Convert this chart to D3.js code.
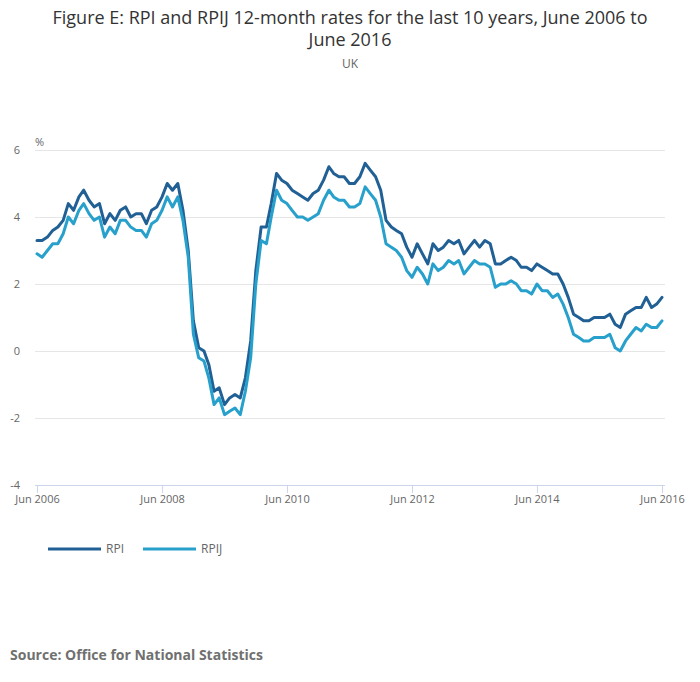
<!DOCTYPE html>
<html lang="en">
<head>
  <meta charset="UTF-8">
  <title>RPI and RPIJ</title>
  <script src="https://d3js.org/d3.v7.min.js"></script>
  <style>
    body { margin: 0; padding: 0; background: #fff; }
    svg { display: block; font-family: "Open Sans", sans-serif; }
  </style>
</head>
<body>
  <svg width="700" height="682"></svg>
  <script>
    // monthly 12-month rates, Jun 2006 .. Jun 2016
    const startMonth = new Date(2006, 5, 1);
    const rpi = [
      3.3, 3.3, 3.4, 3.6, 3.7, 3.9, 4.4,
      4.2, 4.6, 4.8, 4.5, 4.3, 4.4, 3.8, 4.1, 3.9, 4.2, 4.3, 4.0,
      4.1, 4.1, 3.8, 4.2, 4.3, 4.6, 5.0, 4.8, 5.0, 4.2, 3.0, 0.9,
      0.1, 0.0, -0.4, -1.2, -1.1, -1.6, -1.4, -1.3, -1.4, -0.8, 0.3, 2.4,
      3.7, 3.7, 4.4, 5.3, 5.1, 5.0, 4.8, 4.7, 4.6, 4.5, 4.7, 4.8,
      5.1, 5.5, 5.3, 5.2, 5.2, 5.0, 5.0, 5.2, 5.6, 5.4, 5.2, 4.8,
      3.9, 3.7, 3.6, 3.5, 3.1, 2.8, 3.2, 2.9, 2.6, 3.2, 3.0, 3.1,
      3.3, 3.2, 3.3, 2.9, 3.1, 3.3, 3.1, 3.3, 3.2, 2.6, 2.6, 2.7,
      2.8, 2.7, 2.5, 2.5, 2.4, 2.6, 2.5, 2.4, 2.3, 2.3, 2.0, 1.6,
      1.1, 1.0, 0.9, 0.9, 1.0, 1.0, 1.0, 1.1, 0.8, 0.7, 1.1, 1.2,
      1.3, 1.3, 1.6, 1.3, 1.4, 1.6
    ];
    const rpij = [
      2.9, 2.8, 3.0, 3.2, 3.2, 3.5, 4.0,
      3.8, 4.2, 4.4, 4.1, 3.9, 4.0, 3.4, 3.7, 3.5, 3.9, 3.9, 3.7,
      3.6, 3.6, 3.4, 3.8, 3.9, 4.2, 4.6, 4.3, 4.6, 3.9, 2.8, 0.5,
      -0.2, -0.3, -0.8, -1.6, -1.4, -1.9, -1.8, -1.7, -1.9, -1.2, -0.2, 2.0,
      3.3, 3.2, 4.0, 4.8, 4.5, 4.4, 4.2, 4.0, 4.0, 3.9, 4.0, 4.1,
      4.5, 4.8, 4.6, 4.5, 4.5, 4.3, 4.3, 4.4, 4.9, 4.7, 4.5, 4.0,
      3.2, 3.1, 3.0, 2.8, 2.4, 2.2, 2.5, 2.3, 2.0, 2.6, 2.4, 2.5,
      2.7, 2.6, 2.7, 2.3, 2.5, 2.7, 2.6, 2.6, 2.5, 1.9, 2.0, 2.0,
      2.1, 2.0, 1.8, 1.8, 1.7, 2.0, 1.8, 1.8, 1.6, 1.7, 1.4, 1.0,
      0.5, 0.4, 0.3, 0.3, 0.4, 0.4, 0.4, 0.5, 0.1, 0.0, 0.3, 0.5,
      0.7, 0.6, 0.8, 0.7, 0.7, 0.9
    ];
    const seriesNames = ["RPI", "RPIJ"];
    const seriesColors = ["#206095", "#27a0cc"];
    const yTicks = [-4, -2, 0, 2, 4, 6];
    const xTickYears = [2006, 2008, 2010, 2012, 2014, 2016];

    const svg = d3.select("svg");
    const x0 = 37, x1 = 662, yTop = 150, yBot = 485;

    const month = i => d3.timeMonth.offset(startMonth, i);
    const x = d3.scaleTime()
      .domain([startMonth, month(rpi.length - 1)])
      .range([x0, x1]);
    const y = d3.scaleLinear().domain([-4, 6]).range([yBot, yTop]);

    // titles
    svg.append("text")
      .attr("x", 350).attr("y", 24)
      .attr("text-anchor", "middle")
      .attr("font-size", 18).attr("fill", "#333")
      .text("Figure E: RPI and RPIJ 12-month rates for the last 10 years, June 2006 to");
    svg.append("text")
      .attr("x", 350).attr("y", 46)
      .attr("text-anchor", "middle")
      .attr("font-size", 18).attr("fill", "#333")
      .text("June 2016");
    svg.append("text")
      .attr("x", 350).attr("y", 68)
      .attr("text-anchor", "middle")
      .attr("font-size", 12).attr("fill", "#666")
      .text("UK");

    // grid
    const grid = svg.append("g")
      .attr("transform", `translate(${x0 - 2},0)`)
      .call(d3.axisLeft(y).tickValues(yTicks).tickSize(-(x1 - x0 + 5)).tickFormat(""));
    grid.select(".domain").remove();
    grid.selectAll("line").attr("stroke", "#e6e6e6");

    // y labels
    svg.append("g").selectAll("text")
      .data(yTicks)
      .join("text")
      .attr("x", 20)
      .attr("y", d => y(d) + 4)
      .attr("text-anchor", "end")
      .attr("font-size", 11)
      .attr("fill", "#666")
      .text(d => d);
    svg.append("text")
      .attr("x", 35).attr("y", 146)
      .attr("font-size", 11).attr("fill", "#666")
      .text("%");

    // x axis
    const xAxis = svg.append("g")
      .attr("transform", `translate(0,${yBot})`)
      .call(d3.axisBottom(x)
        .tickValues(xTickYears.map(yr => new Date(yr, 5, 1)))
        .tickSize(8)
        .tickSizeOuter(0)
        .tickFormat(d3.timeFormat("%b %Y")));
    xAxis.select(".domain").attr("d", `M${x0 - 2},0.5H${x1 + 3}`).attr("stroke", "#ccd6eb");
    xAxis.selectAll(".tick line").attr("stroke", "#ccd6eb");
    xAxis.selectAll(".tick text")
      .attr("font-family", "Open Sans, sans-serif")
      .attr("font-size", 11).attr("fill", "#666").attr("dy", "0.6em");

    // lines
    const line = d3.line()
      .x((d, i) => x(month(i)))
      .y(d => y(d));
    [rpi, rpij].forEach((s, k) => {
      svg.append("path")
        .datum(s)
        .attr("fill", "none")
        .attr("stroke", seriesColors[k])
        .attr("stroke-width", 3)
        .attr("stroke-linejoin", "round")
        .attr("stroke-linecap", "round")
        .attr("d", line);
    });

    // legend
    const legendX = [48, 143];
    seriesNames.forEach((name, k) => {
      svg.append("line")
        .attr("x1", legendX[k]).attr("x2", legendX[k] + 53)
        .attr("y1", 549).attr("y2", 549)
        .attr("stroke", seriesColors[k]).attr("stroke-width", 3);
      svg.append("text")
        .attr("x", legendX[k] + 58).attr("y", 553)
        .attr("font-size", 12).attr("fill", "#666")
        .text(name);
    });

    // source
    svg.append("text")
      .attr("x", 10).attr("y", 660)
      .attr("font-size", 14).attr("font-weight", "bold").attr("fill", "#707070")
      .text("Source: Office for National Statistics");
  </script>
</body>
</html>
